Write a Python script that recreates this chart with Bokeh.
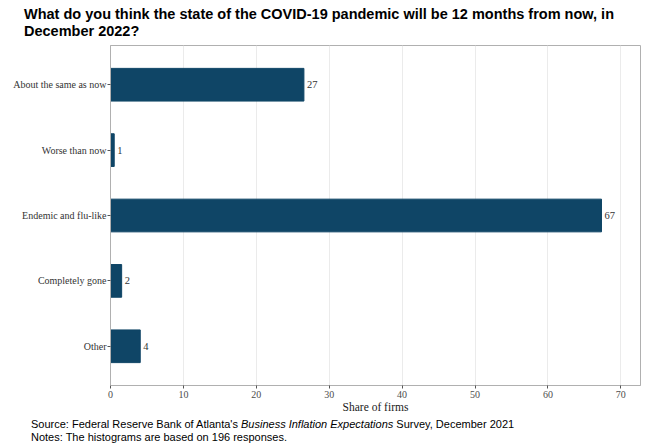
from bokeh.plotting import figure
from bokeh.layouts import column
from bokeh.models import Range1d, FixedTicker, ColumnDataSource, LabelSet, Div
from bokeh.embed import file_html
from bokeh.resources import INLINE

# Survey answers, share of firms (percent of 196 responses)
categories = ["About the same as now", "Worse than now", "Endemic and flu-like",
              "Completely gone", "Other"]
shares = [26.53, 0.51, 67.35, 1.53, 4.08]
x_ticks = [0, 10, 20, 30, 40, 50, 60, 70]

title_text = ("What do you think the state of the COVID-19 pandemic will be "
              "12 months from now, in December 2022?")
source_html = ("Source: Federal Reserve Bank of Atlanta's "
               "<i>Business Inflation Expectations</i> Survey, December 2021")
notes_text = "Notes: The histograms are based on 196 responses."

n = len(categories)
ypos = [n - i for i in range(n)]          # first answer drawn at the top
value_text = [f"{v:.0f}" for v in shares]

src = ColumnDataSource(dict(y=ypos, share=shares, txt=value_text))

SERIF = "Liberation Serif"
SANS = "Liberation Sans"
W = 651

heading = Div(
    text=(f'<div style="font-family:\'{SANS}\';font-size:14.5px;font-weight:bold;'
          f'line-height:17px;color:#000;padding:6px 20px 0 24px;margin:0;">'
          f'{title_text}</div>'),
    width=W, height=40, margin=0)

p = figure(width=W, height=377,
           x_range=Range1d(0, 72.7), y_range=Range1d(0.4, 5.6),
           output_backend="svg", toolbar_location=None,
           min_border_left=110, min_border_right=11,
           min_border_top=5, min_border_bottom=32,
           background_fill_color="white", border_fill_color="white",
           margin=0)

p.hbar(y="y", left=0, right="share", height=0.5, source=src,
       fill_color="#0f4566", line_color="#0f4566", line_width=1)

p.add_layout(LabelSet(x="share", y="y", text="txt", source=src,
                      x_offset=3, text_baseline="middle", text_align="left",
                      text_font=SERIF, text_font_size="10.5px",
                      text_color="#333333"))

# panel frame and grid
p.outline_line_color = "#b0b0b0"
p.outline_line_width = 1
p.ygrid.visible = False
p.xgrid.ticker = FixedTicker(ticks=x_ticks)
p.xgrid.grid_line_color = "#ebebeb"

# x axis
p.xaxis.ticker = FixedTicker(ticks=x_ticks)
p.xaxis.axis_label = "Share of firms"
p.xaxis.axis_label_text_font = SERIF
p.xaxis.axis_label_text_font_style = "normal"
p.xaxis.axis_label_text_font_size = "11.5px"
p.xaxis.axis_label_text_color = "#1a1a1a"
p.xaxis.axis_label_standoff = 0
p.xaxis.major_label_text_font = SERIF
p.xaxis.major_label_text_font_size = "10px"
p.xaxis.major_label_text_color = "#4d4d4d"
p.xaxis.major_label_standoff = 2
p.xaxis.axis_line_color = "#b0b0b0"
p.xaxis.major_tick_line_color = "#555555"
p.xaxis.major_tick_out = 3
p.xaxis.major_tick_in = 0
p.xaxis.minor_tick_line_color = None

# y axis with answer names
p.yaxis.ticker = FixedTicker(ticks=ypos)
p.yaxis.major_label_overrides = {y: c for y, c in zip(ypos, categories)}
p.yaxis.major_label_text_font = SERIF
p.yaxis.major_label_text_font_size = "10px"
p.yaxis.major_label_text_color = "#333333"
p.yaxis.major_label_standoff = 1
p.yaxis.axis_line_color = "#b0b0b0"
p.yaxis.major_tick_line_color = "#555555"
p.yaxis.major_tick_out = 3
p.yaxis.major_tick_in = 0
p.yaxis.minor_tick_line_color = None

footer = Div(
    text=(f'<div style="font-family:\'{SANS}\';font-size:11px;line-height:13px;'
          f'color:#000;padding:1px 0 0 31px;margin:0;">'
          f'{source_html}<br>{notes_text}</div>'),
    width=W, height=31, margin=0)

page = column(heading, p, footer, spacing=0, margin=0)

open("out.html", "w").write(file_html(page, INLINE))
